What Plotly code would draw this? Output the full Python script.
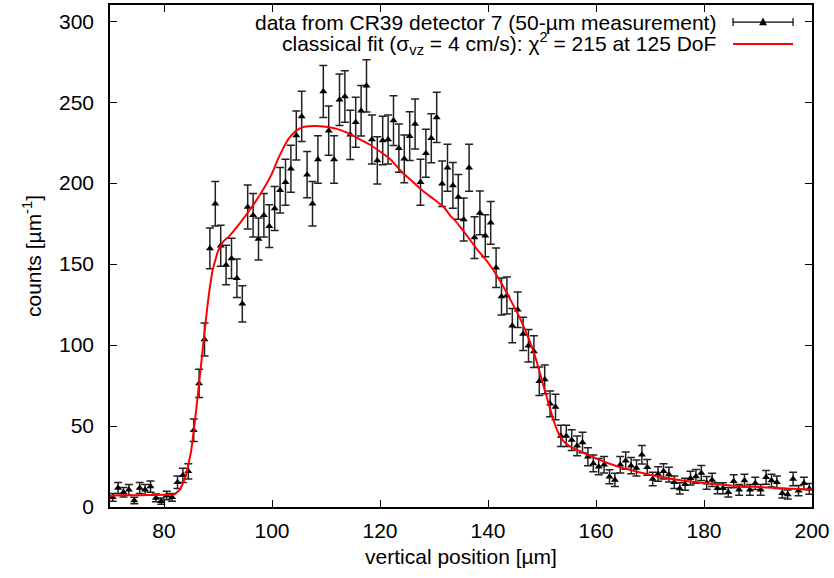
import numpy as np
import plotly.graph_objects as go

# --- measured counts, 1-um bins from 70 to 200 um ---
x_data = np.arange(70.5, 200.0, 1.0)
counts = [
    6.0, 11.8, 9.1, 10.6, 4.0, 11.8, 10.6, 12.6, 5.6, 3.6,
    7.1, 6.0, 15.3, 19.6, 22.0, 47.4, 76.3, 103.4, 159.7, 187.3,
    161.3, 149.5, 153.5, 141.2, 125.5, 185.3, 180.2, 165.5, 180.2, 173.4,
    184.3, 195.6, 200.5, 208.9, 229.4, 241.2, 205.2, 187.3, 214.6, 256.6,
    232.4, 214.6, 251.5, 253.5, 229.8, 237.6, 244.7, 260.1, 226.9, 214.0,
    226.3, 226.9, 238.6, 221.6, 215.0, 229.0, 236.5, 200.5, 218.5, 227.7,
    240.6, 199.6, 209.5, 198.6, 191.5, 177.5, 209.5, 166.4, 181.6, 167.5,
    175.5, 147.8, 130.0, 130.6, 112.0, 121.8, 106.9, 99.6, 96.0, 77.7,
    78.8, 63.7, 61.8, 43.9, 43.9, 41.3, 37.8, 39.8, 31.0, 26.9,
    24.9, 26.1, 18.7, 16.7, 26.1, 28.6, 25.5, 24.1, 32.3, 24.5,
    17.3, 20.4, 22.0, 20.0, 15.3, 11.5, 14.0, 17.8, 18.9, 21.0,
    14.9, 16.7, 11.6, 11.6, 9.1, 15.9, 10.6, 16.3, 10.6, 14.6,
    10.6, 18.3, 16.3, 15.3, 8.5, 7.7, 17.3, 10.1, 14.6, 11.2,
]
errors = [
    2.4, 3.4, 3.0, 3.3, 2.0, 3.4, 3.3, 3.5, 2.4, 1.9,
    2.7, 2.4, 3.9, 4.4, 4.7, 6.9, 8.7, 10.2, 12.6, 13.7,
    12.7, 12.2, 12.4, 11.9, 11.2, 13.6, 13.4, 12.9, 13.4, 13.2,
    13.6, 14.0, 14.2, 14.5, 15.1, 15.5, 14.3, 13.7, 14.6, 16.0,
    15.2, 14.6, 15.9, 15.9, 15.2, 15.4, 15.6, 16.1, 15.1, 14.6,
    15.0, 15.1, 15.4, 14.9, 14.7, 15.1, 15.4, 14.2, 14.8, 15.1,
    15.5, 14.1, 14.5, 14.1, 13.8, 13.3, 14.5, 12.9, 13.5, 12.9,
    13.2, 12.2, 11.4, 11.4, 10.6, 11.0, 10.3, 10.0, 9.8, 8.8,
    8.9, 8.0, 7.9, 6.6, 6.6, 6.4, 6.1, 6.3, 5.6, 5.2,
    5.0, 5.1, 4.3, 4.1, 5.1, 5.3, 5.0, 4.9, 5.7, 4.9,
    4.2, 4.5, 4.7, 4.5, 3.9, 3.4, 3.7, 4.2, 4.3, 4.6,
    3.9, 4.1, 3.4, 3.4, 3.0, 4.0, 3.3, 4.0, 3.3, 3.8,
    3.3, 4.3, 4.0, 3.9, 2.9, 2.8, 4.2, 3.2, 3.8, 3.3,
]

# --- classical fit curve ---
x_fit = [70, 72, 74, 76, 78, 80, 82, 83, 84, 85, 86, 87, 88, 89, 90, 91, 92,
         94, 96, 98, 100, 101, 102, 103, 104, 105, 106, 108, 110, 112, 114,
         116, 118, 120, 122, 124, 126, 128, 130, 132, 133, 134, 136, 138,
         140, 142, 144, 146, 148, 149, 150, 151, 152, 153, 154, 155, 156,
         158, 160, 162, 165, 168, 172, 176, 180, 185, 190, 195, 200]
y_fit = [7.0, 7.2, 7.3, 7.3, 7.4, 7.5, 8.0, 11, 19, 34, 61, 92, 123, 146,
         158, 164, 167, 175, 184, 194, 206, 214, 221, 227, 231, 233.5, 234.8,
         235.3, 234.8, 233.5, 231, 227.5, 224, 219.5, 214.5, 207, 201, 195,
         190, 184.5, 180, 176.5, 168, 159, 151, 141, 129, 116, 100, 90, 78,
         66.5, 55, 46, 40.5, 37.8, 36, 33, 30, 27.3, 24, 21.5, 18.5, 16.3,
         14.8, 13.3, 12.3, 11.5, 10.8]

label_data = "data from CR39 detector 7 (50-\u00b5m measurement)"
label_fit = "classical fit (\u03c3<sub>vz</sub> = 4 cm/s): \u03c7<sup>2</sup> = 215 at 125 DoF"

FONT = "Liberation Sans, Arial, sans-serif"
FS = 21

fig = go.Figure()

fig.add_trace(go.Scatter(
    x=x_data, y=counts, mode="markers", name=label_data,
    marker=dict(symbol="triangle-up", size=7, color="black"),
    error_y=dict(type="data", array=errors, visible=True,
                 color="#222222", thickness=1.5, width=4),
    showlegend=False,
))

fig.add_trace(go.Scatter(
    x=x_fit, y=y_fit, mode="lines", name="fit",
    line=dict(color="#ff0000", width=2, shape="spline", smoothing=0.4),
    showlegend=False,
))

# --- gnuplot-style key: text on the left, sample on the right ---
row1, row2 = 0.966, 0.9225
x_txt, x_a, x_b = 0.866, 0.8875, 0.973
x_mid = (x_a + x_b) / 2

fig.add_annotation(x=x_txt, y=row1, xref="paper", yref="paper", text=label_data,
                   showarrow=False, xanchor="right", yanchor="middle",
                   font=dict(family=FONT, size=FS, color="black"))
fig.add_annotation(x=x_txt, y=row2, xref="paper", yref="paper", text=label_fit,
                   showarrow=False, xanchor="right", yanchor="middle",
                   font=dict(family=FONT, size=FS, color="black"))

key_line = dict(color="black", width=1.2)
fig.add_shape(type="line", xref="paper", yref="paper",
              x0=x_a, x1=x_b, y0=row1, y1=row1, line=key_line)
for xc in (x_a, x_b):
    fig.add_shape(type="line", xref="paper", yref="paper",
                  x0=xc, x1=xc, y0=row1 - 0.008, y1=row1 + 0.008, line=key_line)
fig.add_shape(type="path", xref="paper", yref="paper",
              path=f"M {x_mid - 0.005} {row1 - 0.006} L {x_mid + 0.005} {row1 - 0.006} "
                   f"L {x_mid} {row1 + 0.008} Z",
              fillcolor="black", line=dict(color="black", width=0.5))
fig.add_shape(type="line", xref="paper", yref="paper",
              x0=x_a, x1=x_b, y0=row2, y1=row2,
              line=dict(color="#ff0000", width=2))

axis_common = dict(
    showline=True, linecolor="black", linewidth=1.5, mirror="allticks",
    ticks="inside", ticklen=7, tickwidth=1, tickcolor="black",
    showgrid=False, zeroline=False,
    tickfont=dict(family=FONT, size=FS, color="black"),
)

fig.update_xaxes(range=[70, 200], tick0=0, dtick=20, ticklabelstandoff=4,
                 title=dict(text="vertical position [\u00b5m]", standoff=8,
                            font=dict(family=FONT, size=FS, color="black")),
                 **axis_common)
fig.update_yaxes(range=[0, 310], tick0=0, dtick=50, ticklabelstandoff=10,
                 title=dict(text="counts [\u00b5m<sup>-1</sup>]", standoff=12,
                            font=dict(family=FONT, size=FS, color="black")),
                 **axis_common)

fig.update_layout(
    width=834, height=578,
    margin=dict(l=110, r=22, t=3, b=71),
    plot_bgcolor="white", paper_bgcolor="white",
    font=dict(family=FONT, size=FS, color="black"),
)

fig.write_html("out.html", config={"displayModeBar": False},
               post_script="document.body.style.margin='0';")
